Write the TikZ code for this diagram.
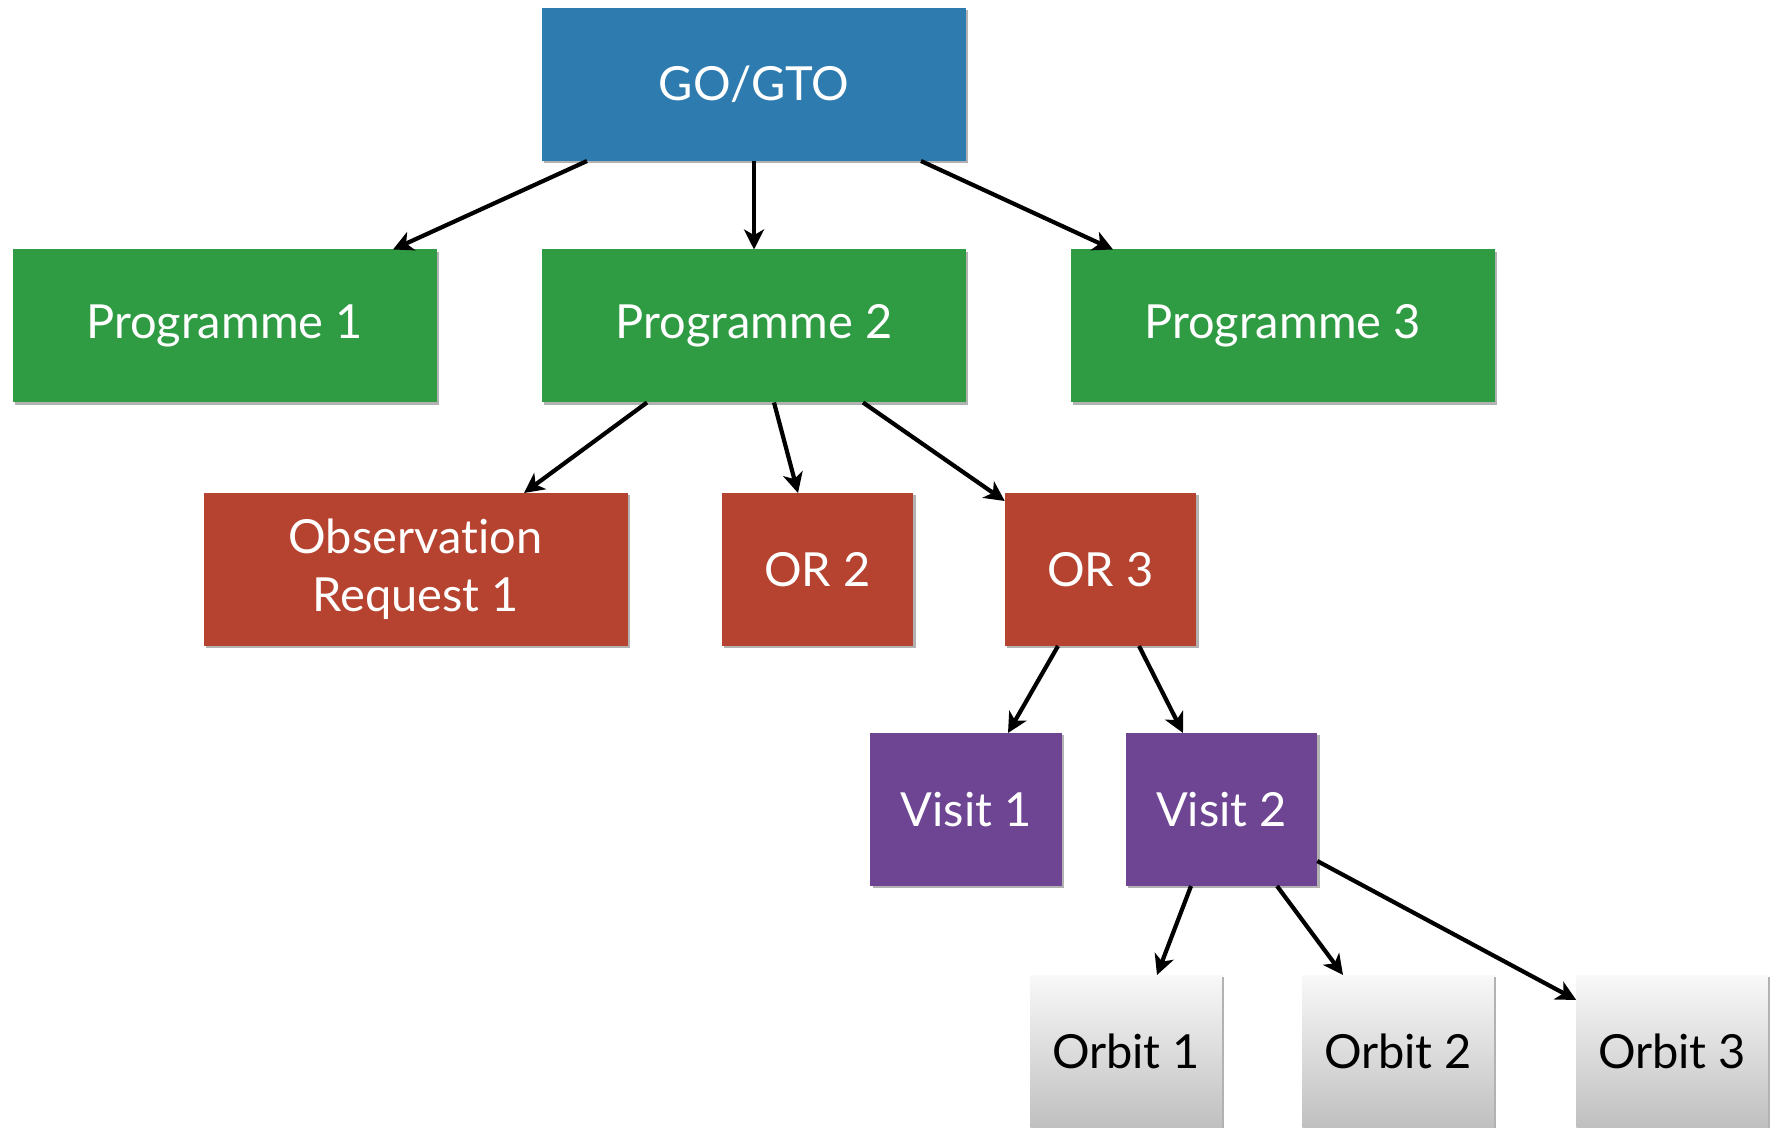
\documentclass[tikz,border=0pt]{standalone}
\usepackage{fontspec}
\setmainfont[Ligatures=NoCommon]{Lato}
\usepackage{tikz}
\usetikzlibrary{arrows.meta}
\usetikzlibrary{shadows}
\definecolor{goblue}{HTML}{2E7BB0}
\definecolor{proggreen}{HTML}{2F9B43}
\definecolor{orred}{HTML}{B54330}
\definecolor{visitpurple}{HTML}{6E4592}

\begin{document}
\begin{tikzpicture}[x=0.5pt,y=-0.5pt,
	box/.style={inner sep=0pt, outer sep=0pt, minimum height=76.5pt, text=white, align=center,
		font=\fontsize{23.5}{26}\selectfont,
		drop shadow={shadow xshift=1.2pt, shadow yshift=-1.2pt, opacity=0.3, fill=black}},
	widebox/.style={box, minimum width=212pt},
	narrowbox/.style={box, minimum width=95.75pt},
	orbitbox/.style={narrowbox, text=black, top color=gray!5, bottom color=gray!50},
	arr/.style={-{Stealth[length=10pt,width=10pt,inset=2.8pt]}, line width=2.1pt}]
	\useasboundingbox (0,0) rectangle (1771,1128);
	% tree levels
	\node[widebox, fill=goblue] (go) at (754,84.5) {GO/GTO};
	\node[widebox, fill=proggreen] (p1) at (224.5,326) {Programme 1};
	\node[widebox, fill=proggreen] (p2) at (754,326) {Programme 2};
	\node[widebox, fill=proggreen] (p3) at (1282.5,326) {Programme 3};
	\node[widebox, fill=orred] (or1) at (415.5,569.5) {Observation\\[3pt]Request 1};
	\node[narrowbox, fill=orred] (or2) at (817.5,569.5) {OR 2};
	\node[narrowbox, fill=orred] (or3) at (1100.5,569.5) {OR 3};
	\node[narrowbox, fill=visitpurple] (v1) at (966,809.5) {Visit 1};
	\node[narrowbox, fill=visitpurple] (v2) at (1221.5,809.5) {Visit 2};
	\node[orbitbox] (o1) at (1126,1051.5) {Orbit 1};
	\node[orbitbox] (o2) at (1398,1051.5) {Orbit 2};
	\node[orbitbox] (o3) at (1672,1051.5) {Orbit 3};
	% connectors
	\draw[arr] ([xshift=-83.5pt]go.south) -- ([xshift=84.25pt]p1.north);
	\draw[arr] (go.south) -- (p2.north);
	\draw[arr] ([xshift=83.5pt]go.south) -- ([xshift=-84.75pt]p3.north);
	\draw[arr] ([xshift=-53.5pt]p2.south) -- ([xshift=54.25pt]or1.north);
	\draw[arr] ([xshift=10pt]p2.south) -- ([xshift=-9.75pt]or2.north);
	\draw[arr] ([xshift=54.5pt]p2.south) -- ([yshift=-4pt]or3.north west);
	\draw[arr] ([xshift=-21.25pt]or3.south) -- ([xshift=21pt]v1.north);
	\draw[arr] ([xshift=19.25pt]or3.south) -- ([xshift=-19.25pt]v2.north);
	\draw[arr] ([xshift=-15.25pt]v2.south) -- ([xshift=15.5pt]o1.north);
	\draw[arr] ([xshift=27.75pt]v2.south) -- ([xshift=-27.5pt]o2.north);
	\draw[arr] ([yshift=12.5pt]v2.south east) -- ([yshift=-12.5pt]o3.north west);
\end{tikzpicture}
\end{document}
